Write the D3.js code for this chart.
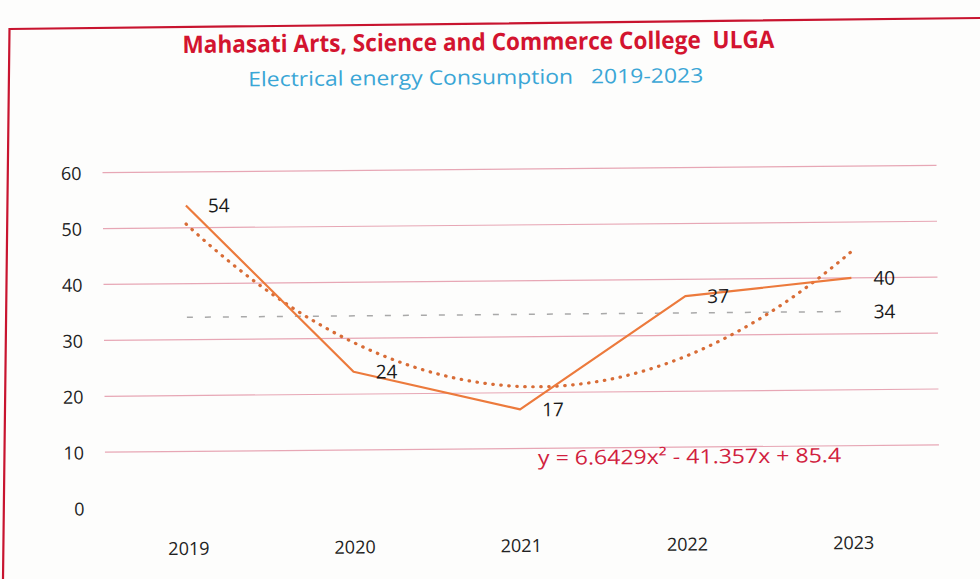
<!DOCTYPE html>
<html>
<head>
<meta charset="utf-8">
<script src="https://cdn.jsdelivr.net/npm/d3@7"></script>
<style>
  html, body { margin: 0; padding: 0; background: #fdfdfc; }
  svg { display: block; font-family: "Open Sans", "Noto Sans", sans-serif; }
  .keep-space { white-space: pre; }
</style>
</head>
<body>
<svg id="chart" width="980" height="579"></svg>
<script>
// data
const years = ["2019", "2020", "2021", "2022", "2023"];
const consumption = [54, 24, 17, 37, 40];
const averageValue = 34;
const yTicks = [0, 10, 20, 30, 40, 50, 60];
// polynomial trendline y = c2*x^2 + c1*x + c0 (x = 1..5), as printed on the chart
const trendCoef = [85.4, -41.357, 6.6429];
const trendLabel = "y = 6.6429x² - 41.357x + 85.4";
const titleText = "Mahasati Arts, Science and Commerce College  ULGA";
const subtitleText = "Electrical energy Consumption   2019-2023";

const width = 980;
const height = 579;
const margin = { top: 169, right: 45, bottom: 74, left: 104 };

const svg = d3.select("#chart");

// red frame around the chart (photo is slightly skewed)
svg
  .append("path")
  .attr("d", "M3,579 L9.5,29 L980,18")
  .attr("fill", "none")
  .attr("stroke", "#c8142f")
  .attr("stroke-width", 2.2);

// the photographed page is slightly rotated
const g = svg.append("g").attr("transform", "rotate(-0.5, 520, 340)");

const x = d3
  .scalePoint()
  .domain(years)
  .range([margin.left, width - margin.right])
  .padding(0.5);

const y = d3
  .scaleLinear()
  .domain([0, 60])
  .range([height - margin.bottom - 0.5, margin.top]);

// title
g.append("text")
  .attr("class", "keep-space")
  .attr("x", 481)
  .attr("y", 50)
  .attr("text-anchor", "middle")
  .attr("font-size", "24px")
  .attr("font-weight", "bold")
  .attr("fill", "#d3142f")
  .attr("textLength", 592)
  .attr("lengthAdjust", "spacingAndGlyphs")
  .text(titleText);

g.append("text")
  .attr("class", "keep-space")
  .attr("x", 478)
  .attr("y", 84)
  .attr("text-anchor", "middle")
  .attr("font-size", "20px")
  .attr("fill", "#3aa6d6")
  .attr("textLength", 455)
  .attr("lengthAdjust", "spacingAndGlyphs")
  .text(subtitleText);

// gridlines
g.selectAll(".grid-line")
  .data(yTicks.filter((d) => d > 0))
  .enter()
  .append("line")
  .attr("class", "grid-line")
  .attr("x1", margin.left)
  .attr("x2", width - margin.right + 3)
  .attr("y1", (d) => y(d))
  .attr("y2", (d) => y(d))
  .attr("stroke", "#e7a7b5")
  .attr("stroke-width", 1.2);

// y labels
g.selectAll(".y-label")
  .data(yTicks)
  .enter()
  .append("text")
  .attr("class", "y-label")
  .attr("x", 83)
  .attr("y", (d) => y(d))
  .attr("text-anchor", "end")
  .attr("dominant-baseline", "central")
  .attr("font-size", "18px")
  .attr("fill", "#222")
  .text((d) => d);

// x labels
g.selectAll(".x-label")
  .data(years)
  .enter()
  .append("text")
  .attr("class", "x-label")
  .attr("x", (d) => x(d))
  .attr("y", 545)
  .attr("text-anchor", "middle")
  .attr("dominant-baseline", "central")
  .attr("font-size", "18px")
  .attr("fill", "#222")
  .text((d) => d);

// average line
g.append("line")
  .attr("x1", x(years[0]))
  .attr("x2", x(years[years.length - 1]))
  .attr("y1", y(averageValue))
  .attr("y2", y(averageValue))
  .attr("stroke", "#a9a9a9")
  .attr("stroke-width", 1.5)
  .attr("stroke-dasharray", "6,12");

// trendline from the printed equation, x = 1..5
const trendX = d3.scaleLinear().domain([1, years.length]).range([x(years[0]), x(years[years.length - 1])]);
const trendFn = (t) => trendCoef[0] + trendCoef[1] * t + trendCoef[2] * t * t;
const trendSteps = d3.range(1, years.length + 0.001, 0.05);

g.append("path")
  .datum(trendSteps)
  .attr("fill", "none")
  .attr("stroke", "#d86c36")
  .attr("stroke-width", 3.2)
  .attr("stroke-linecap", "round")
  .attr("stroke-dasharray", "0.5,7.5")
  .attr(
    "d",
    d3
      .line()
      .x((t) => trendX(t))
      .y((t) => y(trendFn(t)))
      .curve(d3.curveMonotoneX),
  );

// consumption line
const series = years.map((yr, i) => ({ year: yr, value: consumption[i] }));

g.append("path")
  .datum(series)
  .attr("fill", "none")
  .attr("stroke", "#ec7a3c")
  .attr("stroke-width", 2.2)
  .attr("stroke-linejoin", "round")
  .attr(
    "d",
    d3
      .line()
      .x((d) => x(d.year))
      .y((d) => y(d.value)),
  );

// data labels
g.selectAll(".data-label")
  .data(series)
  .enter()
  .append("text")
  .attr("class", "data-label")
  .attr("x", (d) => x(d.year) + 22)
  .attr("y", (d) => y(d.value))
  .attr("dominant-baseline", "central")
  .attr("font-size", "19px")
  .attr("fill", "#1a1a1a")
  .text((d) => d.value);

// average label
g.append("text")
  .attr("x", x(years[years.length - 1]) + 22)
  .attr("y", y(averageValue))
  .attr("dominant-baseline", "central")
  .attr("font-size", "19px")
  .attr("fill", "#1a1a1a")
  .text(averageValue);

// trendline equation
g.append("text")
  .attr("x", 537)
  .attr("y", 465)
  .attr("font-size", "20px")
  .attr("fill", "#d11f3f")
  .attr("textLength", 303)
  .attr("lengthAdjust", "spacingAndGlyphs")
  .text(trendLabel);
</script>
</body>
</html>
